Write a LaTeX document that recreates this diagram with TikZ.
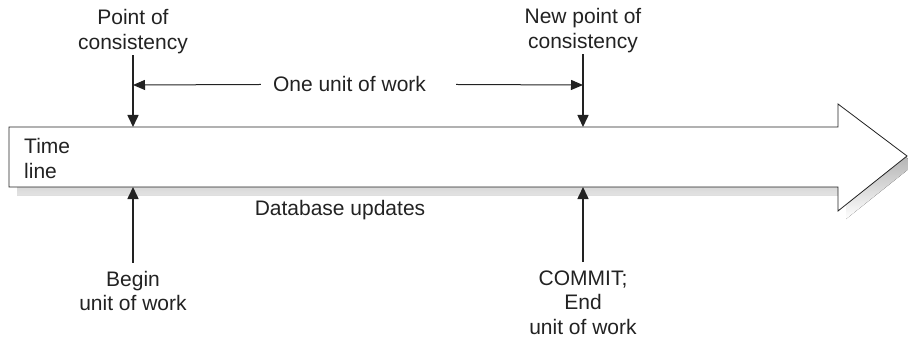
\documentclass[tikz,border=0pt]{standalone}
\usepackage{fontspec}
\setmainfont{Liberation Sans}
\usetikzlibrary{arrows.meta}
\definecolor{ink}{HTML}{222222}
\definecolor{shade}{HTML}{D3D3D3}
\begin{document}
\begin{tikzpicture}[x=1pt,y=-1pt,
  lbl/.style={font=\fontsize{21}{24.5}\selectfont, text=ink, align=center, inner sep=0pt, anchor=base},
  pointer/.style={draw=ink, line width=1.6pt, -{Triangle[length=12pt,width=11pt]}},
  span/.style={draw=ink, line width=1pt, -{Triangle[length=12pt,width=10pt]}},
  bodyline/.style={draw=ink, line width=0.8pt, fill=white}]
\useasboundingbox (0,0) rectangle (908,342);
% shadow and timeline arrow
\fill[shade] (17,135) -- (846,135) -- (846,112) -- (915,164) -- (846,219) -- (846,195) -- (17,195) -- cycle;
\draw[bodyline] (9,127) -- (838,127) -- (838,104) -- (907,156) -- (838,211) -- (838,187) -- (9,187) -- cycle;
% anchor points on the timeline
\coordinate (t1) at (133,127);
\coordinate (t2) at (583,127);
\coordinate (b1) at (133,187);
\coordinate (b2) at (583,187);
\coordinate (h1) at (133,85);
\coordinate (h2) at (583,85);
% labels (base anchor = baseline of the last line)
\node[lbl] (poc) at (133,49.5) {Point of\\consistency};
\node[lbl] (npc) at (583,48.5) {New point of\\consistency};
\node[lbl] (ouw) at (349.5,92) {One unit of work};
\node[lbl, anchor=base west, align=left] (tl) at (24,178.5) {Time\\line};
\node[lbl] (dbu) at (340,215) {Database updates};
\node[lbl] (buw) at (133,310.5) {Begin\\unit of work};
\node[lbl] (cmt) at (583,334) {COMMIT;\\End\\unit of work};
% connectors
\draw[pointer] ([yshift=-1pt]poc.south) -- (t1);
\draw[pointer] ([yshift=-1pt]npc.south) -- (t2);
\draw[pointer] ([yshift=8pt]buw.north) -- (b1);
\draw[pointer] ([yshift=8pt]cmt.north) -- (b2);
\draw[span] ([xshift=-12pt]ouw.west) -- (h1);
\draw[span] ([xshift=30pt]ouw.east) -- (h2);
\end{tikzpicture}
\end{document}
